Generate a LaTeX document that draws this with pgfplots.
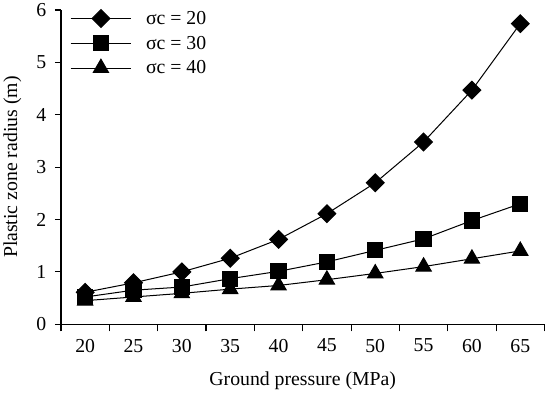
\documentclass[border=0pt]{standalone}
\usepackage{fontspec}
\setmainfont{Liberation Serif}
\usepackage{pgfplots}
\pgfplotsset{compat=1.18}
\begin{document}
\begin{tikzpicture}
\begin{axis}[
  scale only axis, width=477pt, height=310pt,
  xmin=0.5, xmax=10.5, ymin=0, ymax=6,
  axis x line=bottom, axis y line=left,
  axis line style={-, line width=1.1pt},
  xtick={1,...,10},
  xticklabels={20,25,30,35,40,45,50,55,60,65},
  major x tick style={draw=none},
  minor xtick={0.5,1.5,...,10.5},
  minor tick length=7pt, major tick length=6pt,
  ytick={0,1,2,3,4,5,6},
  tick align=outside,
  tick style={line width=1.1pt, black},
  /pgf/number format/assume math mode=true,
  every tick label/.append style={font=\fontsize{19.5}{22}\selectfont},
  xticklabel style={yshift=-5pt},
  yticklabel style={xshift=-5pt},
  label style={font=\fontsize{19.5}{22}\selectfont},
  xlabel={Ground pressure (MPa)},
  ylabel={Plastic zone radius (m)},
  xlabel style={yshift=-12pt},
  ylabel style={yshift=8pt},
  legend style={draw=none, fill=none, at={(0.012,1.01)}, anchor=north west,
    font=\fontsize{19.5}{22}\selectfont, row sep=6pt,
    nodes={inner sep=2pt}},
  legend cell align=left,
  legend image code/.code={%
    \draw[#1, mark repeat=2, mark phase=2] plot coordinates {(0pt,0pt) (30pt,0pt) (60pt,0pt)} (72pt,0pt);},
]
\addplot[black, line width=1pt, mark=square*, mark options={rotate=45}, mark size=6.2pt]
coordinates {(1,0.61) (2,0.79) (3,1.00) (4,1.26) (5,1.62) (6,2.11) (7,2.70) (8,3.48) (9,4.47) (10,5.74)};
\addlegendentry{σc = 20}
\addplot[black, line width=1pt, mark=square*, mark size=7.5pt]
coordinates {(1,0.52) (2,0.65) (3,0.71) (4,0.87) (5,1.01) (6,1.19) (7,1.41) (8,1.63) (9,1.98) (10,2.30)};
\addlegendentry{σc = 30}
\addplot[black, line width=1pt, mark=triangle*, mark size=8.7pt]
coordinates {(1,0.45) (2,0.52) (3,0.59) (4,0.67) (5,0.74) (6,0.85) (7,0.97) (8,1.10) (9,1.25) (10,1.40)};
\addlegendentry{σc = 40}
\end{axis}
\end{tikzpicture}
\end{document}
